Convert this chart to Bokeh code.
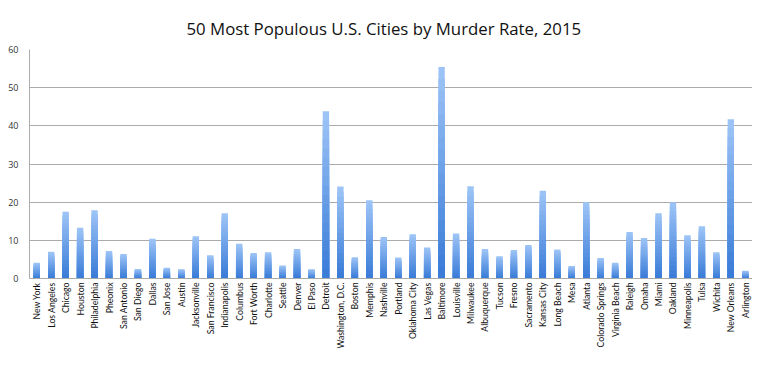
from bokeh.plotting import figure
from bokeh.models import ColumnDataSource, FactorRange, Range1d
from bokeh.embed import file_html
from bokeh.resources import INLINE
import math

cities = ["New York", "Los Angeles", "Chicago", "Houston", "Philadelphia", "Pheonix",
          "San Antonio", "San Diego", "Dallas", "San Jose", "Austin", "Jacksonville",
          "San Francisco", "Indianapolis", "Columbus", "Fort Worth", "Charlotte", "Seattle",
          "Denver", "El Paso", "Detroit", "Washington, D.C.", "Boston", "Memphis",
          "Nashville", "Portland", "Oklahoma City", "Las Vegas", "Baltimore", "Louisville",
          "Milwaukee", "Albuquerque", "Tucson", "Fresno", "Sacramento", "Kansas City",
          "Long Beach", "Mesa", "Atlanta", "Colorado Springs", "Virginia Beach", "Raleigh",
          "Omaha", "Miami", "Oakland", "Minneapolis", "Tulsa", "Wichita", "New Orleans",
          "Arlington"]

murder_rate = [4.1, 7.0, 17.5, 13.3, 17.9, 7.2,
               6.4, 2.5, 10.4, 2.8, 2.4, 11.1,
               6.1, 17.1, 9.1, 6.7, 6.9, 3.4,
               7.7, 2.4, 43.8, 24.1, 5.6, 20.5,
               10.9, 5.5, 11.6, 8.1, 55.4, 11.8,
               24.2, 7.7, 5.8, 7.5, 8.8, 23.0,
               7.6, 3.3, 20.0, 5.4, 4.1, 12.2,
               10.6, 17.1, 20.0, 11.3, 13.7, 6.9, 41.7,
               2.0]

y_ticks = [0, 10, 20, 30, 40, 50, 60]

p = figure(width=752, height=351, x_range=FactorRange(*cities, range_padding=0),
           y_range=Range1d(0, 60), output_backend="svg", toolbar_location=None,
           min_border_left=29, min_border_right=0, min_border_top=49, min_border_bottom=0)

p.title.text = "50 Most Populous U.S. Cities by Murder Rate, 2015"
p.title.align = "left"
p.title.text_font = "Open Sans"
p.title.text_font_size = "16.8px"
p.title.text_font_style = "normal"
p.title.text_color = "#111111"
p.title.text_line_height = 0.8
p.title.standoff = 19
p.title.offset = 157

# simulated vertical gradient: light at top, dark at bottom
top_rgb = (0x9c, 0xc3, 0xf6)
bot_rgb = (0x3a, 0x7c, 0xd8)
N = 18
for k in range(N):
    f = 1 - k / N
    t = k / (N - 1)
    col = "#%02x%02x%02x" % tuple(int(round(a + (b - a) * t)) for a, b in zip(top_rgb, bot_rgb))
    src = ColumnDataSource(dict(x=cities, top=[v * f for v in murder_rate]))
    p.vbar(x="x", top="top", bottom=0, width=0.44, source=src,
           fill_color=col, line_color=None)

p.outline_line_color = None
p.xgrid.grid_line_color = None
p.ygrid.grid_line_color = "#ababab"
p.ygrid.grid_line_width = 1
p.yaxis.ticker = y_ticks
p.yaxis.axis_line_color = "#ababab"
p.yaxis.major_tick_line_color = None
p.yaxis.major_tick_out = 0
p.yaxis.major_tick_in = 0
p.yaxis.minor_tick_line_color = None
p.yaxis.major_label_text_font = "Open Sans"
p.yaxis.major_label_text_font_size = "9px"
p.yaxis.major_label_text_color = "#333333"
p.yaxis.major_label_standoff = 11

p.xaxis.axis_line_color = "#ababab"
p.xaxis.major_tick_line_color = None
p.xaxis.major_tick_out = 0
p.xaxis.major_tick_in = 0
p.xaxis.major_label_orientation = math.pi / 2
p.xaxis.major_label_text_font = "Lato"
p.xaxis.major_label_text_font_size = "8.7px"
p.xaxis.major_label_text_color = "#111111"
p.xaxis.major_label_standoff = 4

open("out.html", "w").write(file_html(p, INLINE))
